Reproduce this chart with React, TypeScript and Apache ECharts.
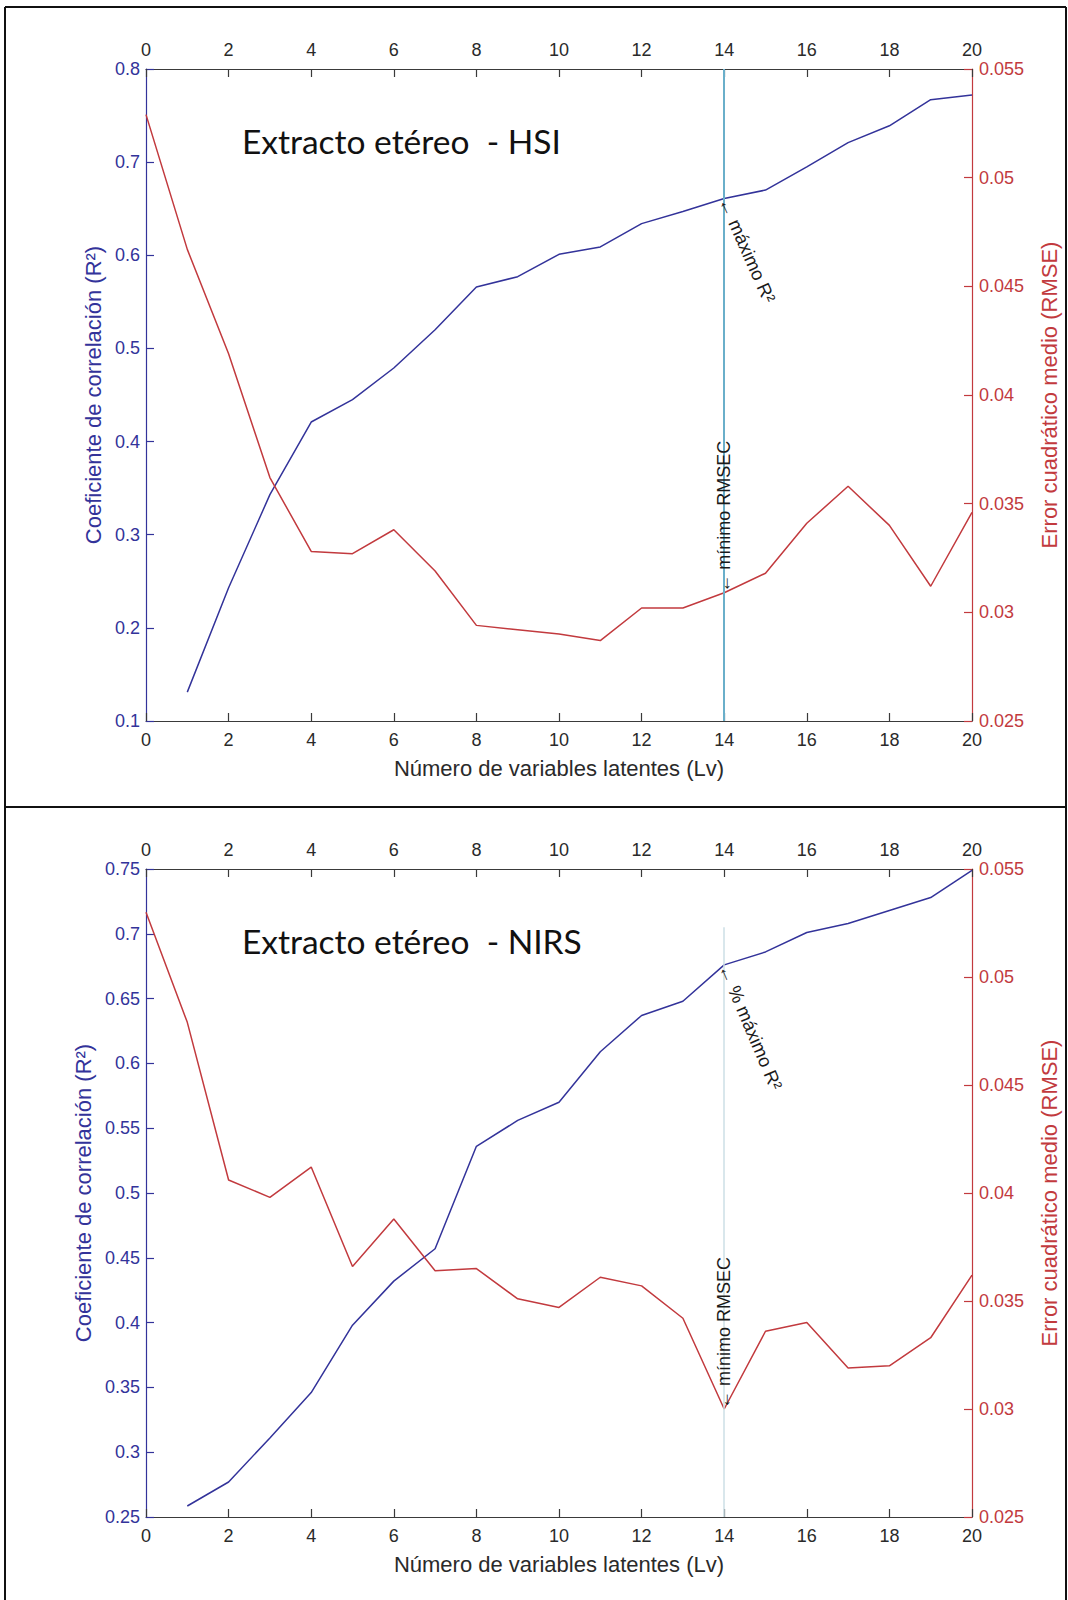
import React, { useEffect, useRef } from "react";
import * as echarts from "echarts";

// ---- data ----
const latentVars = [0, 1, 2, 3, 4, 5, 6, 7, 8, 9, 10, 11, 12, 13, 14, 15, 16, 17, 18, 19, 20];
const r2LatentVars = [1, 2, 3, 4, 5, 6, 7, 8, 9, 10, 11, 12, 13, 14, 15, 16, 17, 18, 19, 20];

const hsiR2 = [0.131, 0.243, 0.343, 0.421, 0.445, 0.479, 0.52, 0.566, 0.577, 0.601, 0.609, 0.634, 0.647, 0.661, 0.67, 0.695, 0.721, 0.739, 0.767, 0.772];
const hsiRmse = [0.0529, 0.0467, 0.0419, 0.0362, 0.0328, 0.0327, 0.0338, 0.0319, 0.0294, 0.0292, 0.029, 0.0287, 0.0302, 0.0302, 0.0309, 0.0318, 0.0341, 0.0358, 0.034, 0.0312, 0.0346];

const nirsR2 = [0.2585, 0.277, 0.311, 0.346, 0.398, 0.432, 0.457, 0.536, 0.556, 0.57, 0.609, 0.637, 0.648, 0.676, 0.686, 0.701, 0.708, 0.718, 0.728, 0.749];
const nirsRmse = [0.053, 0.0479, 0.0406, 0.0398, 0.0412, 0.0366, 0.0388, 0.0364, 0.0365, 0.0351, 0.0347, 0.0361, 0.0357, 0.0342, 0.03, 0.0336, 0.034, 0.0319, 0.032, 0.0333, 0.0362];

const selectedLv = 14;
const panelTitles = ["Extracto etéreo  - HSI", "Extracto etéreo  - NIRS"];
const xAxisTitle = "Número de variables latentes (Lv)";
const leftAxisTitle = "Coeficiente de correlación (R²)";
const rightAxisTitle = "Error cuadrático medio (RMSE)";
const maxLabels = ["← máximo R²", "← % máximo R²"];
const minLabel = "← mínimo RMSEC";

// axis ranges [min, max, interval]
const hsiR2Axis = [0.1, 0.8, 0.1];
const nirsR2Axis = [0.25, 0.75, 0.05];
const rmseAxis = [0.025, 0.055, 0.005];
const xAxisRange = [0, 20, 2];
// upper end of the marker line (in R² units)
const hsiMarkerTop = 0.8;
const nirsMarkerTop = 0.705;

// ---- styles ----
const BLUE = "#33339a";
const RED = "#c23a3e";
const AX = "#3a3a3a";
const FONT = '"Liberation Sans", Arial, sans-serif';

const panels = [
  { top: 69, height: 652, r2: hsiR2, rmse: hsiRmse, r2Axis: hsiR2Axis, title: panelTitles[0], titleY: 141, maxLabel: maxLabels[0], maxAngle: 66, markerColor: "#6aafca", markerWidth: 2, markerTop: hsiMarkerTop },
  { top: 869, height: 648, r2: nirsR2, rmse: nirsRmse, r2Axis: nirsR2Axis, title: panelTitles[1], titleY: 941, maxLabel: maxLabels[1], maxAngle: 67, markerColor: "#cddfe6", markerWidth: 1.5, markerTop: nirsMarkerTop },
];

function xAxes(gridIndex: number) {
  const common = {
    gridIndex,
    type: "value",
    min: xAxisRange[0],
    max: xAxisRange[1],
    interval: xAxisRange[2],
    axisLine: { show: true, onZero: false, lineStyle: { color: AX, width: 1.2 } },
    axisTick: { show: true, inside: true, length: 8, lineStyle: { color: AX, width: 1.2 } },
    axisLabel: { color: "#2a2a2a", fontSize: 18, fontFamily: FONT, margin: 10 },
    splitLine: { show: false },
  };
  return [
    {
      ...common,
      position: "bottom",
      name: xAxisTitle,
      nameLocation: "middle",
      nameGap: 36,
      nameTextStyle: { color: "#2a2a2a", fontSize: 22, fontFamily: FONT },
    },
    { ...common, position: "top" },
  ];
}

function yAxes(gridIndex: number, r2Axis: number[]) {
  return [
    {
      gridIndex,
      type: "value",
      position: "left",
      min: r2Axis[0],
      max: r2Axis[1],
      interval: r2Axis[2],
      axisLine: { show: true, onZero: false, lineStyle: { color: BLUE, width: 1.2 } },
      axisTick: { show: true, inside: true, length: 8, lineStyle: { color: BLUE, width: 1.2 } },
      axisLabel: { color: BLUE, fontSize: 18, fontFamily: FONT, margin: 6 },
      splitLine: { show: false },
      name: leftAxisTitle,
      nameLocation: "middle",
      nameRotate: 90,
      nameGap: 42,
      nameTextStyle: { color: BLUE, fontSize: 22, fontFamily: FONT },
    },
    {
      gridIndex,
      type: "value",
      position: "right",
      min: rmseAxis[0],
      max: rmseAxis[1],
      interval: rmseAxis[2],
      axisLine: { show: true, onZero: false, lineStyle: { color: RED, width: 1.2 } },
      axisTick: { show: true, inside: true, length: 8, lineStyle: { color: RED, width: 1.2 } },
      axisLabel: { color: RED, fontSize: 18, fontFamily: FONT, margin: 7 },
      splitLine: { show: false },
      name: rightAxisTitle,
      nameLocation: "middle",
      nameRotate: 90,
      nameGap: 66,
      nameTextStyle: { color: RED, fontSize: 22, fontFamily: FONT },
    },
  ];
}

export default function App() {
  const ref = useRef<HTMLDivElement>(null);

  useEffect(() => {
    if (!ref.current) return;
    const chart = echarts.init(ref.current, undefined, { renderer: "svg" });

    const grid = panels.map((p) => ({ left: 146, width: 828, top: p.top, height: p.height, containLabel: false }));
    const xAxis: any[] = [];
    const yAxis: any[] = [];
    const series: any[] = [];
    panels.forEach((p, i) => {
      xAxis.push(...xAxes(i));
      yAxis.push(...yAxes(i, p.r2Axis));
      series.push({
        type: "line",
        xAxisIndex: 2 * i,
        yAxisIndex: 2 * i,
        data: r2LatentVars.map((x, k) => [x, p.r2[k]]),
        symbol: "none",
        showSymbol: false,
        lineStyle: { color: BLUE, width: 1.5 },
        z: 3,
        markLine: {
          silent: true,
          symbol: ["none", "none"],
          label: { show: false },
          lineStyle: { color: p.markerColor, width: p.markerWidth, type: "solid" },
          data: [[{ coord: [selectedLv, p.r2Axis[0]] }, { coord: [selectedLv, p.markerTop] }]],
        },
      });
      series.push({
        type: "line",
        xAxisIndex: 2 * i,
        yAxisIndex: 2 * i + 1,
        data: latentVars.map((x, k) => [x, p.rmse[k]]),
        symbol: "none",
        showSymbol: false,
        lineStyle: { color: RED, width: 1.5 },
        z: 3,
      });
    });

    chart.setOption({
      animation: false,
      backgroundColor: "#ffffff",
      grid,
      xAxis,
      yAxis,
      series,
    });

    const graphic: any[] = [];
    // outer frame (table borders)
    const frameStyle = { stroke: "#111", lineWidth: 2 };
    graphic.push({ type: "line", shape: { x1: 5, y1: 7, x2: 1066, y2: 7 }, style: frameStyle, silent: true });
    graphic.push({ type: "line", shape: { x1: 5, y1: 7, x2: 5, y2: 1600 }, style: frameStyle, silent: true });
    graphic.push({ type: "line", shape: { x1: 1066, y1: 7, x2: 1066, y2: 1600 }, style: frameStyle, silent: true });
    graphic.push({ type: "line", shape: { x1: 5, y1: 807, x2: 1066, y2: 807 }, style: frameStyle, silent: true });

    panels.forEach((p, i) => {
      graphic.push({
        type: "text",
        x: 242,
        y: p.titleY,
        style: { text: p.title, font: '33.5px Lato, "Open Sans", sans-serif', fill: "#111", align: "left", verticalAlign: "middle" },
        silent: true,
      });
      const maxPt = chart.convertToPixel({ seriesIndex: 2 * i }, [selectedLv, p.r2[selectedLv - 1]]) as number[];
      const minPt = chart.convertToPixel({ seriesIndex: 2 * i + 1 }, [selectedLv, p.rmse[selectedLv]]) as number[];
      graphic.push({
        type: "text",
        x: maxPt[0],
        y: maxPt[1],
        rotation: (-p.maxAngle * Math.PI) / 180,
        style: { text: p.maxLabel, font: `18.5px ${FONT}`, fill: "#1a1a1a", align: "left", verticalAlign: "middle" },
        silent: true,
        z: 10,
      });
      graphic.push({
        type: "text",
        x: minPt[0],
        y: minPt[1],
        rotation: Math.PI / 2,
        style: { text: minLabel, font: `18px ${FONT}`, fill: "#1a1a1a", align: "left", verticalAlign: "middle" },
        silent: true,
        z: 10,
      });
    });

    chart.setOption({ graphic });

    return () => chart.dispose();
  }, []);

  return <div ref={ref} style={{ position: "absolute", left: 0, top: 0, width: 1068, height: 1600, background: "#fff" }} />;
}
